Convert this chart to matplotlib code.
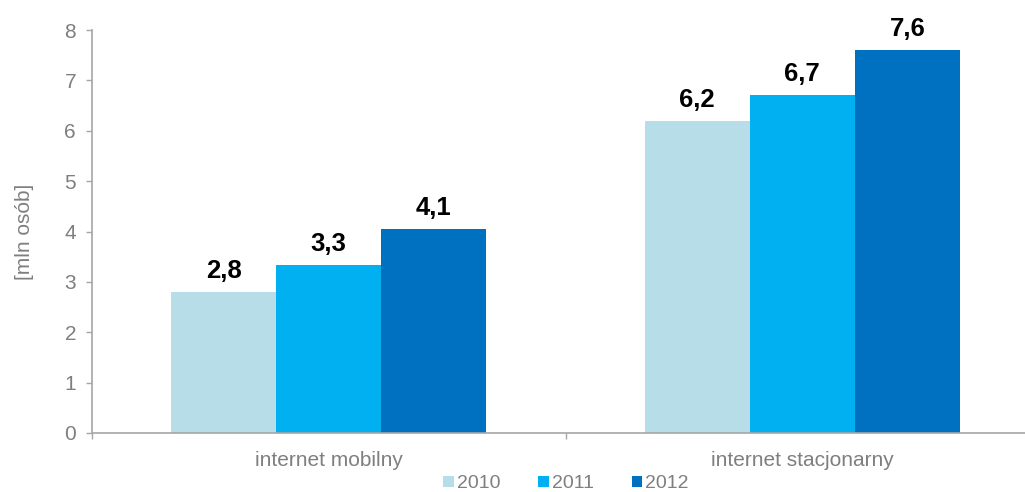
import matplotlib.pyplot as plt
import numpy as np

plt.rcParams['font.family'] = ['Liberation Sans', 'DejaVu Sans']

categories = ['internet mobilny', 'internet stacjonarny']
years = ['2010', '2011', '2012']
values_2010 = [2.8, 6.2]
values_2011 = [3.33, 6.7]
values_2012 = [4.05, 7.6]
labels_2010 = ['2,8', '6,2']
labels_2011 = ['3,3', '6,7']
labels_2012 = ['4,1', '7,6']

colors = ['#B7DDE8', '#00B0F0', '#0070C0']
grey = '#7F7F7F'

series = [values_2010, values_2011, values_2012]
series_labels = [labels_2010, labels_2011, labels_2012]

fig = plt.figure(figsize=(10.25, 4.92), dpi=100)
ax = fig.add_axes([92 / 1025, 1 - 433 / 492, (1039 - 92) / 1025, (433 - 30) / 492])

x = np.arange(len(categories))
width = 0.222

for ii, (vals, labs) in enumerate(zip(series, series_labels)):
    pos = x + (ii - 1) * width
    bars = ax.bar(pos, vals, width=width, color=colors[ii], label=years[ii], zorder=2)
    for b, lab in zip(bars, labs):
        ax.annotate(lab, (b.get_x() + b.get_width() / 2, b.get_height()),
                    xytext=(0, 6.5), textcoords='offset points', ha='center', va='bottom',
                    fontsize=18.5, fontweight='bold', color='black')

ax.set_xlim(-0.5, 1.5)
ax.set_ylim(0, 8)
ax.set_yticks(range(0, 9))
ax.set_xticks([-0.5, 0.5, 1.5], minor=False)
ax.set_xticklabels([])
ax.set_xticks(x, minor=True)
ax.set_xticklabels(categories, minor=True)

for s in ['top', 'right']:
    ax.spines[s].set_visible(False)
for s in ['left', 'bottom']:
    ax.spines[s].set_color('#A6A6A6')
    ax.spines[s].set_linewidth(1.2)

ax.tick_params(axis='y', direction='out', length=4.5, width=1, color='#A6A6A6',
               labelcolor=grey, labelsize=15, pad=7)
ax.tick_params(axis='x', which='major', direction='out', length=4.5, width=1, color='#A6A6A6')
ax.tick_params(axis='x', which='minor', length=0, labelcolor=grey, labelsize=15, pad=13)

ax.set_ylabel('[mln osób]', color=grey, fontsize=15, labelpad=22)

fig.legend(loc='center', bbox_to_anchor=(566 / 1025, 1 - 484 / 492), ncol=3, frameon=False,
           fontsize=14, handlelength=0.55, handleheight=0.55, handletextpad=0.15,
           columnspacing=1.95, labelcolor=grey)

fig.savefig('out.png', dpi=100)
